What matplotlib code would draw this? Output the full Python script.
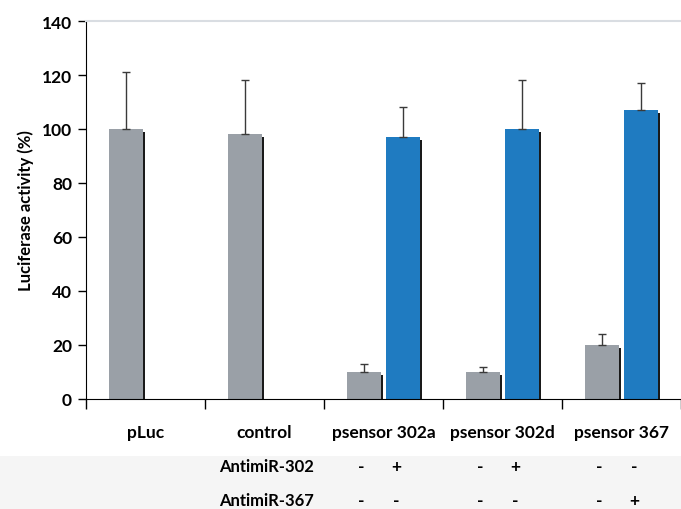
import numpy as np
import matplotlib.pyplot as plt
from matplotlib.patches import Rectangle
from matplotlib.transforms import blended_transform_factory

plt.rcParams['font.family'] = ['Lato', 'DejaVu Sans']
plt.rcParams['font.weight'] = 'bold'
plt.rcParams['axes.labelweight'] = 'bold'

groups = ['pLuc', 'control', 'psensor 302a', 'psensor 302d', 'psensor 367']
gray_vals = [100, 98, 10, 10, 20]
gray_err = [21, 20, 3, 2, 4]
blue_vals = [np.nan, np.nan, 97, 100, 107]
blue_err = [np.nan, np.nan, 11, 18, 10]
antimir302 = [None, None, ('-', '+'), ('-', '+'), ('-', '-')]
antimir367 = [None, None, ('-', '-'), ('-', '-'), ('-', '+')]

gray_c = '#9aa0a7'
blue_c = '#1f7bc1'
w = 0.285
off = 0.165

fig = plt.figure(figsize=(6.81, 5.10), dpi=100)
ax = fig.add_axes([86/681, 110/510, 595/681, 378/510])

x = np.arange(len(groups))
xg = x - off
xb = x + off
gv = np.array(gray_vals, float)
bv = np.array(blue_vals, float)

# dark drop shadow behind each bar
ax.bar(xg + 0.02, gv - 1, w, color='#1a1a1a', zorder=1)
ax.bar(xb + 0.02, bv - 1, w, color='#1a1a1a', zorder=1)
ax.bar(xg, gv, w, color=gray_c, zorder=2)
ax.bar(xb, bv, w, color=blue_c, zorder=2)

ax.errorbar(xg, gv, yerr=[np.zeros(len(gv)), gray_err], fmt='none',
            ecolor='#3a3a3a', elinewidth=1, capsize=3, capthick=1, zorder=3)
ax.errorbar(xb, bv, yerr=[np.zeros(len(bv)), blue_err], fmt='none',
            ecolor='#3a3a3a', elinewidth=1, capsize=3, capthick=1, zorder=3)

ax.set_xlim(-0.5, 4.5)
ax.set_ylim(0, 140)
ax.set_yticks(range(0, 141, 20))
ax.tick_params(axis='y', labelsize=12.5, length=6, width=1, pad=4)
ax.set_xticks(np.arange(-0.5, 4.6, 1))
ax.set_xticklabels([])
ax.tick_params(axis='x', which='major', length=7, width=1, direction='out')
ax.set_xticks(x, minor=True)
ax.set_xticklabels(groups, minor=True, fontsize=12.5)
ax.tick_params(axis='x', which='minor', length=0, pad=18)

ax.spines['right'].set_visible(False)
ax.spines['top'].set_color('#d9dde2')
ax.spines['top'].set_linewidth(1.5)
ax.set_ylabel('Luciferase activity (%)', fontsize=12, labelpad=6)

# shaded band under the chart holding the treatment table
fig.patches.append(Rectangle((0, 0), 1, 53/510, transform=fig.transFigure,
                             facecolor='#f5f5f5', edgecolor='none', zorder=-1))
fig.text(219/681, 1 - 467/510, 'AntimiR-302', fontsize=12, va='center')
fig.text(219/681, 1 - 501/510, 'AntimiR-367', fontsize=12, va='center')

tr = blended_transform_factory(ax.transData, fig.transFigure)
for i in range(len(groups)):
    for row, yy in ((antimir302, 467), (antimir367, 501)):
        if row[i] is None:
            continue
        for s, dx in zip(row[i], (-0.19, 0.105)):
            ax.text(i + dx, 1 - yy/510, s, transform=tr, fontsize=12.5,
                    ha='center', va='center', zorder=5)

plt.savefig('out.png', dpi=100)
